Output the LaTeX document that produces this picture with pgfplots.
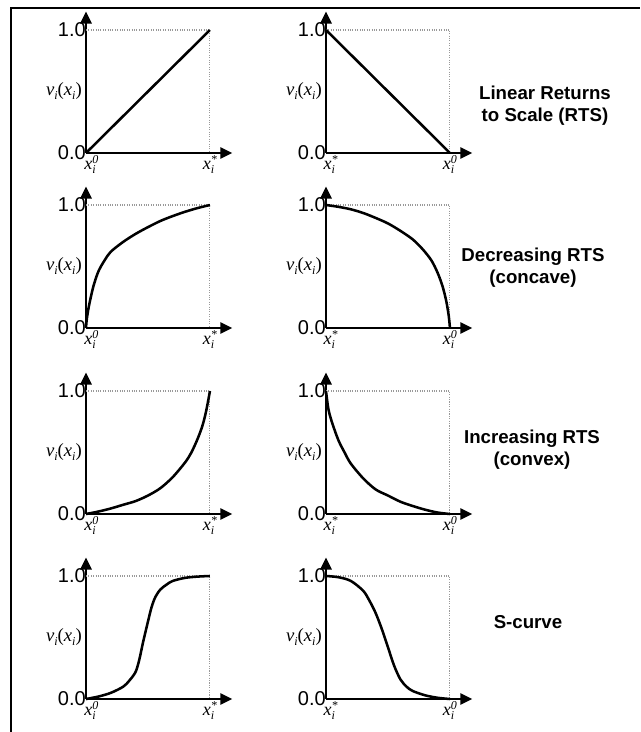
\documentclass[border=0pt]{standalone}
\usepackage{fontspec}
\setmainfont{Liberation Serif}
\newfontfamily\arialfont{Liberation Sans}
\usepackage{pgfplots}
\pgfplotsset{compat=1.18}
\usetikzlibrary{arrows.meta}

\newcommand{\subi}{\raisebox{-0.45ex}{\fontsize{9}{9}\selectfont\itshape i}}
\newcommand{\xlab}[1]{\textit{x}\rlap{\subi}\raisebox{0.8ex}{\fontsize{9}{9}\selectfont\itshape #1}}
\newcommand{\vlab}{\textit{v}\subi(\textit{x}\subi)}

\tikzset{vl/.style={anchor=east, inner sep=0pt, xshift=-3pt, font=\fontsize{14}{14}\selectfont}}
\pgfplotsset{
  panel/.style={
    anchor=south west,
    scale only axis, width=109.7pt, height=106.1pt,
    xmin=0, xmax=1.18, ymin=0, ymax=1.15,
    axis lines=left,
    axis line style={line width=1.35pt, -{Triangle[length=9pt,width=8.5pt]}},
    xtick={0,1}, ytick={0,1}, yticklabels={0.0,1.0},
    major tick length=0pt,
    tick style={draw=none},
    yticklabel style={font=\arialfont\fontsize{15}{15}\selectfont, anchor=east, inner sep=0pt},
    xticklabel style={font=\fontsize{13.5}{13.5}\selectfont, anchor=north, inner sep=0pt, yshift=-1.5pt},
    clip=false,
  },
  dots/.style={gray!80, densely dotted, line width=0.8pt},
  curve/.style={black, line width=1.9pt, smooth, tension=0.5},
}

\begin{document}
\begin{tikzpicture}
\useasboundingbox (0,0) rectangle (480pt,-549pt);
\draw[line width=1.5pt] (8.25pt,-549pt) -- (8.25pt,-6pt) -- (480pt,-6pt);

% Row 1
\begin{axis}[panel, at={(64.5pt,-114.75pt)}, xticklabels={\hspace*{8pt}\xlab{0},\xlab{*}}]
\addplot[dots] coordinates {(0,1)(1,1)(1,0)};
\addplot[curve] coordinates {(0,0)(1,1)};
\node[vl] at (axis cs:0,0.5) {\vlab};
\end{axis}
\begin{axis}[panel, at={(244.5pt,-114.75pt)}, xticklabels={\hspace*{7pt}\xlab{*},\xlab{0}}]
\addplot[dots] coordinates {(0,1)(1,1)(1,0)};
\addplot[curve] coordinates {(0,1)(1,0)};
\node[vl] at (axis cs:0,0.5) {\vlab};
\end{axis}

% Row 2
\begin{axis}[panel, at={(64.5pt,-246pt)}, xticklabels={\hspace*{8pt}\xlab{0},\xlab{*}}]
\addplot[dots] coordinates {(0,1)(1,1)(1,0)};
\addplot[curve] coordinates {(0,0)(0.005,0.06)(0.015,0.13)(0.03,0.21)(0.06,0.34)(0.1,0.46)(0.15,0.55)(0.2,0.62)(0.3,0.7)(0.4,0.765)(0.5,0.82)(0.6,0.87)(0.7,0.91)(0.8,0.945)(0.9,0.975)(1,1)};
\node[vl] at (axis cs:0,0.5) {\vlab};
\end{axis}
\begin{axis}[panel, at={(244.5pt,-246pt)}, xticklabels={\hspace*{7pt}\xlab{*},\xlab{0}}]
\addplot[dots] coordinates {(0,1)(1,1)(1,0)};
\addplot[curve] coordinates {(0,1)(0.1,0.985)(0.2,0.965)(0.3,0.935)(0.4,0.895)(0.5,0.85)(0.6,0.79)(0.7,0.72)(0.78,0.64)(0.85,0.55)(0.9,0.45)(0.94,0.34)(0.97,0.22)(0.99,0.1)(1,0)};
\node[vl] at (axis cs:0,0.5) {\vlab};
\end{axis}

% Row 3
\begin{axis}[panel, at={(64.5pt,-385.5pt)}, xticklabels={\hspace*{8pt}\xlab{0},\xlab{*}}]
\addplot[dots] coordinates {(0,1)(1,1)(1,0)};
\addplot[curve] coordinates {(0,0)(0.1,0.02)(0.2,0.045)(0.3,0.075)(0.4,0.105)(0.5,0.15)(0.6,0.21)(0.7,0.3)(0.8,0.42)(0.85,0.5)(0.9,0.61)(0.94,0.72)(0.97,0.84)(1,1)};
\node[vl] at (axis cs:0,0.5) {\vlab};
\end{axis}
\begin{axis}[panel, at={(244.5pt,-385.5pt)}, xticklabels={\hspace*{7pt}\xlab{*},\xlab{0}}]
\addplot[dots] coordinates {(0,1)(1,1)(1,0)};
\addplot[curve] coordinates {(0,1)(0.02,0.85)(0.05,0.74)(0.1,0.6)(0.15,0.5)(0.2,0.41)(0.3,0.29)(0.4,0.2)(0.5,0.15)(0.6,0.1)(0.7,0.065)(0.8,0.035)(0.9,0.012)(1,0)};
\node[vl] at (axis cs:0,0.5) {\vlab};
\end{axis}

% Row 4
\begin{axis}[panel, at={(64.5pt,-524.25pt)}, xticklabels={\hspace*{8pt}\xlab{0},\xlab{*}}]
\addplot[dots] coordinates {(0,1)(1,1)(1,0)};
\addplot[curve] coordinates {(0,0)(0.1,0.02)(0.2,0.05)(0.3,0.1)(0.35,0.15)(0.4,0.22)(0.43,0.32)(0.46,0.46)(0.5,0.63)(0.53,0.75)(0.56,0.83)(0.6,0.89)(0.65,0.93)(0.7,0.96)(0.8,0.985)(0.9,0.995)(1,1)};
\node[vl] at (axis cs:0,0.5) {\vlab};
\end{axis}
\begin{axis}[panel, at={(244.5pt,-524.25pt)}, xticklabels={\hspace*{7pt}\xlab{*},\xlab{0}}]
\addplot[dots] coordinates {(0,1)(1,1)(1,0)};
\addplot[curve] coordinates {(0,1)(0.1,0.99)(0.2,0.96)(0.3,0.88)(0.35,0.8)(0.4,0.7)(0.45,0.57)(0.5,0.42)(0.55,0.27)(0.6,0.16)(0.65,0.1)(0.7,0.065)(0.8,0.03)(0.9,0.01)(1,0)};
\node[vl] at (axis cs:0,0.5) {\vlab};
\end{axis}

% Right-hand labels
\begin{scope}[every node/.style={font=\arialfont\bfseries\fontsize{14}{16.5}\selectfont, align=center}]
\node at (408.75pt,-79.5pt) {Linear Returns\\to Scale (RTS)};
\node at (399.75pt,-200.6pt) {Decreasing RTS\\(concave)};
\node at (399pt,-337.5pt) {Increasing RTS\\(convex)};
\node at (396pt,-466.5pt) {S-curve};
\end{scope}
\end{tikzpicture}
\end{document}
